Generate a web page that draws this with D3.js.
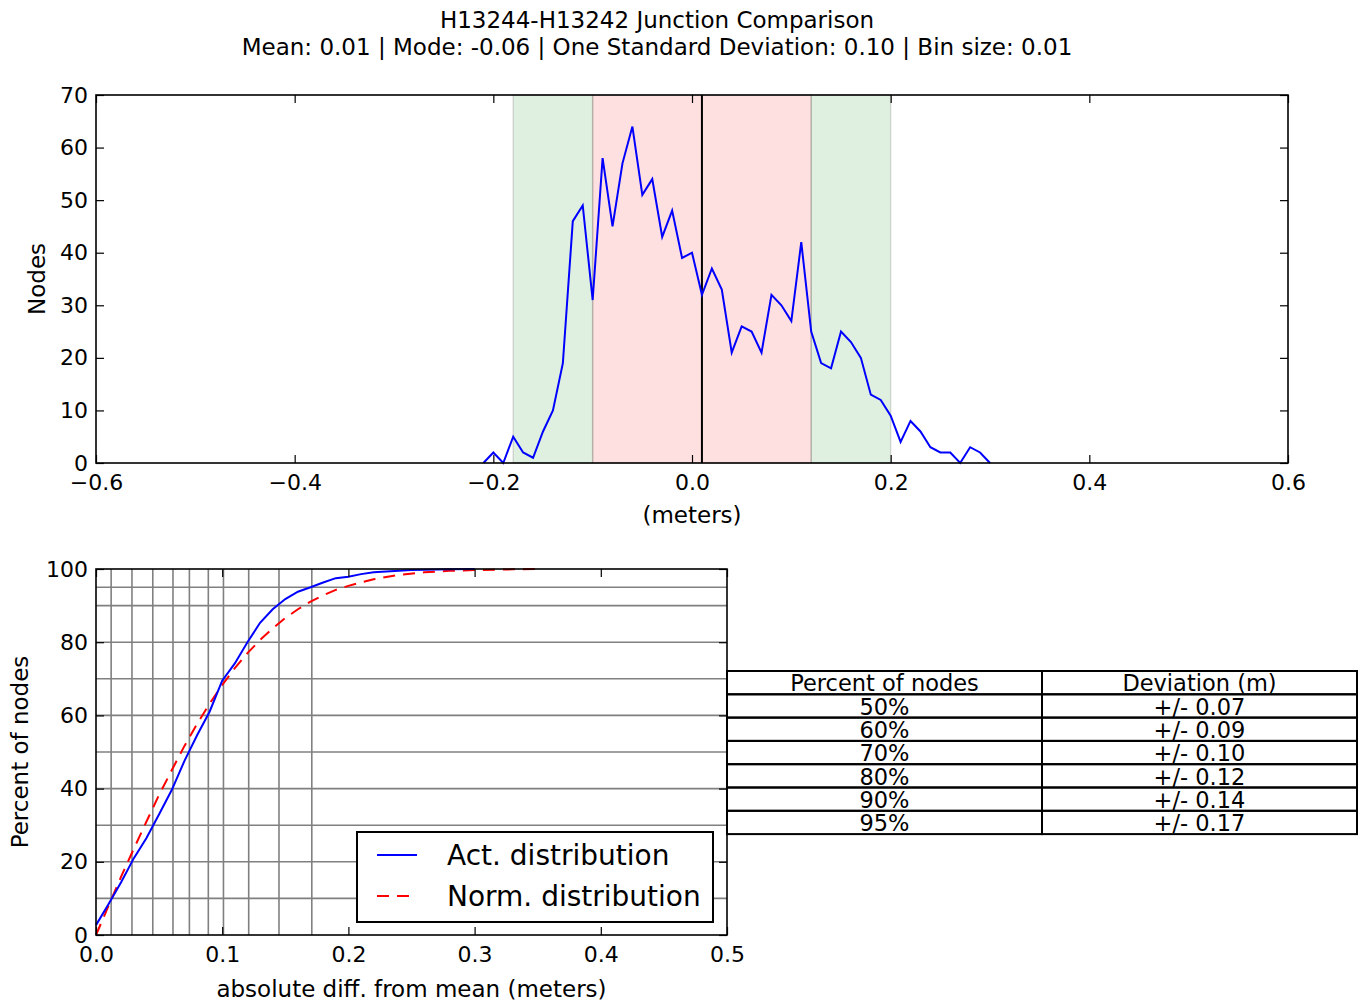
<!DOCTYPE html>
<html>
<head>
<meta charset="utf-8">
<script src="https://cdn.jsdelivr.net/npm/d3@7"></script>
<style>
  body { margin: 0; background: #fff; }
  svg { font-family: "DejaVu Sans", sans-serif; }
  .axis path, .axis line { stroke: #000; }
</style>
</head>
<body>
<svg id="fig" width="1370" height="1005"></svg>
<script>
// ---- data ----
var titleLine1 = 'H13244-H13242 Junction Comparison';
var titleLine2 = 'Mean: 0.01 | Mode: -0.06 | One Standard Deviation: 0.10 | Bin size: 0.01';

var binCenters = [-0.21,-0.20,-0.19,-0.18,-0.17,-0.16,-0.15,-0.14,-0.13,-0.12,-0.11,-0.10,
  -0.09,-0.08,-0.07,-0.06,-0.05,-0.04,-0.03,-0.02,-0.01,0.00,0.01,0.02,0.03,0.04,0.05,
  0.06,0.07,0.08,0.09,0.10,0.11,0.12,0.13,0.14,0.15,0.16,0.17,0.18,0.19,0.20,0.21,0.22,
  0.23,0.24,0.25,0.26,0.27,0.28,0.29,0.30];
var binCounts = [0,2,0,5,2,1,6,10,19,46,49,31,58,45,57,64,51,54,43,48,39,40,32,37,33,21,26,
  25,21,32,30,27,42,25,19,18,25,23,20,13,12,9,4,8,6,3,2,2,0,3,2,0];

var meanValue = 0.01;
var innerBand = [-0.10, 0.12];
var outerBand = [-0.18, 0.20];

var histXTicks = [-0.6,-0.4,-0.2,0.0,0.2,0.4,0.6];
var histYTicks = [0,10,20,30,40,50,60,70];

var cdfX = [0,0.01,0.02,0.03,0.04,0.05,0.06,0.07,0.08,0.09,0.10,0.11,0.12,0.13,0.14,0.15,
  0.16,0.17,0.18,0.19,0.20,0.21,0.22,0.23,0.24,0.25,0.26,0.28,0.30];
var actPct = [2.7,8.5,14.5,21,26.5,33,39.6,47.5,54.5,61,69.5,74.2,80,85.3,89,91.8,
  93.8,95,96.3,97.5,97.9,98.6,99.1,99.3,99.5,99.7,99.8,99.9,100];
var normX = [0,0.01,0.02,0.03,0.04,0.05,0.06,0.07,0.08,0.09,0.10,0.11,0.12,0.13,0.14,0.15,
  0.16,0.17,0.18,0.19,0.20,0.22,0.24,0.26,0.28,0.30,0.33,0.35];
var normPct = [0,8,16,23.6,31,38.3,45,51.6,57.6,63.2,68.3,72.9,77,80.6,83.8,86.6,
  89,91.1,92.8,94.3,95.4,97.2,98.4,99.1,99.5,99.7,99.9,100];

var gridPct = [10,20,30,40,50,60,70,80,90,95];
var gridDev = [0.012,0.0285,0.045,0.061,0.074,0.089,0.101,0.121,0.145,0.171];

var cdfXTicks = [0,0.1,0.2,0.3,0.4,0.5];
var cdfYTicks = [0,20,40,60,80,100];

var tableHeader = ['Percent of nodes','Deviation (m)'];
var tablePct = ['50%','60%','70%','80%','90%','95%'];
var tableDev = ['+/- 0.07','+/- 0.09','+/- 0.10','+/- 0.12','+/- 0.14','+/- 0.17'];

var legendLabels = ['Act. distribution','Norm. distribution'];

// ---- drawing ----
var svg = d3.select('#fig');
var fmt1 = function(d){ return d3.format('.1f')(d).replace('-', '\u2212'); };

svg.append('text').attr('x',657).attr('y',28).attr('text-anchor','middle')
   .style('font-size','23px').text(titleLine1);
svg.append('text').attr('x',657).attr('y',55).attr('text-anchor','middle')
   .style('font-size','23px').text(titleLine2);

// box axes with inward ticks on every side (classic matplotlib look)
var boxAxes = function(g, x, y, w, h, xTicks, yTicks, xFmt, yFmt){
  var tl = 8;
  g.append('g').attr('class','axis').attr('transform','translate(0,'+h+')')
   .call(d3.axisBottom(x).tickValues(xTicks).tickFormat(xFmt).tickSizeInner(-tl).tickSizeOuter(0).tickPadding(11))
   .call(function(s){ s.select('.domain').remove(); s.selectAll('line').attr('stroke-width',1.2); });
  g.append('g').attr('class','axis')
   .call(d3.axisTop(x).tickValues(xTicks).tickFormat('').tickSizeInner(-tl).tickSizeOuter(0))
   .call(function(s){ s.select('.domain').remove(); s.selectAll('line').attr('stroke-width',1.2); });
  g.append('g').attr('class','axis')
   .call(d3.axisLeft(y).tickValues(yTicks).tickFormat(yFmt).tickSizeInner(-tl).tickSizeOuter(0).tickPadding(8))
   .call(function(s){ s.select('.domain').remove(); s.selectAll('line').attr('stroke-width',1.2); });
  g.append('g').attr('class','axis').attr('transform','translate('+w+',0)')
   .call(d3.axisRight(y).tickValues(yTicks).tickFormat('').tickSizeInner(-tl).tickSizeOuter(0))
   .call(function(s){ s.select('.domain').remove(); s.selectAll('line').attr('stroke-width',1.2); });
  g.selectAll('.axis text').style('font-size','22px').style('font-family','"DejaVu Sans", sans-serif').attr('fill','#000');
  g.append('rect').attr('width',w).attr('height',h).attr('fill','none')
   .attr('stroke','#000').attr('stroke-width',1.6);
};

// ---- top histogram ----
var histBox = {left:96, top:95, width:1192, height:368};
var gTop = svg.append('g').attr('transform','translate('+histBox.left+','+histBox.top+')');
var hx = d3.scaleLinear().domain([-0.6,0.6]).range([0,histBox.width]);
var hy = d3.scaleLinear().domain([0,70]).range([histBox.height,0]);

var bands = [
  {a:outerBand[0], b:innerBand[0], c:'#008000'},
  {a:innerBand[0], b:innerBand[1], c:'#ff0000'},
  {a:innerBand[1], b:outerBand[1], c:'#008000'}
];
gTop.selectAll('rect.band').data(bands).enter().append('rect')
  .attr('class','band')
  .attr('x',function(d){ return hx(d.a); })
  .attr('width',function(d){ return hx(d.b)-hx(d.a); })
  .attr('y',0).attr('height',histBox.height)
  .attr('fill',function(d){ return d.c; }).attr('fill-opacity',0.12)
  .attr('stroke','#000').attr('stroke-opacity',0.13).attr('stroke-width',1.5);

gTop.append('line').attr('x1',hx(meanValue)).attr('x2',hx(meanValue))
  .attr('y1',0).attr('y2',histBox.height).attr('stroke','#000').attr('stroke-width',2);

var histPts = binCenters.map(function(v,i){ return {x:v, y:binCounts[i]}; });
gTop.append('path').datum(histPts)
  .attr('d', d3.line().x(function(d){ return hx(d.x); }).y(function(d){ return hy(d.y); }))
  .attr('fill','none').attr('stroke','#0000ff').attr('stroke-width',2);

boxAxes(gTop, hx, hy, histBox.width, histBox.height, histXTicks, histYTicks, fmt1, d3.format('d'));

svg.append('text').attr('x',histBox.left+histBox.width/2).attr('y',523).attr('text-anchor','middle')
   .style('font-size','23px').text('(meters)');
svg.append('text').attr('transform','translate(45,'+(histBox.top+histBox.height/2)+') rotate(-90)')
   .attr('text-anchor','middle').style('font-size','23px').text('Nodes');

// ---- bottom cumulative chart ----
var cdfBox = {left:96, top:569, width:631, height:366};
var gBot = svg.append('g').attr('transform','translate('+cdfBox.left+','+cdfBox.top+')');
var cx = d3.scaleLinear().domain([0,0.5]).range([0,cdfBox.width]);
var cy = d3.scaleLinear().domain([0,100]).range([cdfBox.height,0]);

gBot.selectAll('line.hgrid').data(gridPct).enter().append('line')
  .attr('class','hgrid').attr('x1',0).attr('x2',cdfBox.width)
  .attr('y1',function(d){ return cy(d); }).attr('y2',function(d){ return cy(d); })
  .attr('stroke','#808080').attr('stroke-width',1.6);
gBot.selectAll('line.vgrid').data(gridDev).enter().append('line')
  .attr('class','vgrid').attr('y1',0).attr('y2',cdfBox.height)
  .attr('x1',function(d){ return cx(d); }).attr('x2',function(d){ return cx(d); })
  .attr('stroke','#808080').attr('stroke-width',1.6);

var actPts = cdfX.map(function(v,i){ return {x:v, y:actPct[i]}; });
var normPts = normX.map(function(v,i){ return {x:v, y:normPct[i]}; });
var cline = d3.line().x(function(d){ return cx(d.x); }).y(function(d){ return cy(d.y); });
gBot.append('path').datum(normPts).attr('d',cline)
  .attr('fill','none').attr('stroke','#ff0000').attr('stroke-width',2).attr('stroke-dasharray','12,8');
gBot.append('path').datum(actPts).attr('d',cline)
  .attr('fill','none').attr('stroke','#0000ff').attr('stroke-width',2);

boxAxes(gBot, cx, cy, cdfBox.width, cdfBox.height, cdfXTicks, cdfYTicks, fmt1, d3.format('d'));

svg.append('text').attr('x',cdfBox.left+cdfBox.width/2).attr('y',997).attr('text-anchor','middle')
   .style('font-size','23px').text('absolute diff. from mean (meters)');
svg.append('text').attr('transform','translate(28,'+(cdfBox.top+cdfBox.height/2)+') rotate(-90)')
   .attr('text-anchor','middle').style('font-size','23px').text('Percent of nodes');

// legend
var lg = svg.append('g').attr('transform','translate(357,832)');
lg.append('rect').attr('width',356).attr('height',90).attr('fill','#fff')
  .attr('stroke','#000').attr('stroke-width',2);
var legendStyles = [{c:'#0000ff', dash:null},{c:'#ff0000', dash:'12,8'}];
legendLabels.forEach(function(lab,i){
  var yy = 23 + i*41;
  lg.append('line').attr('x1',20).attr('x2',60).attr('y1',yy).attr('y2',yy)
    .attr('stroke',legendStyles[i].c).attr('stroke-width',2)
    .attr('stroke-dasharray',legendStyles[i].dash);
  lg.append('text').attr('x',90).attr('y',yy+10).style('font-size','28px').text(lab);
});

// table
var tb = {left:727, top:671, rowH:23.3, col:[315,315]};
var rows = [tableHeader].concat(tablePct.map(function(p,i){ return [p, tableDev[i]]; }));
var tg = svg.append('g').attr('transform','translate('+tb.left+','+tb.top+')');
rows.forEach(function(r,ri){
  var x0 = 0;
  r.forEach(function(cell,ci){
    tg.append('rect').attr('x',x0).attr('y',ri*tb.rowH).attr('width',tb.col[ci]).attr('height',tb.rowH)
      .attr('fill','none').attr('stroke','#000').attr('stroke-width',2);
    tg.append('text').attr('x',x0+tb.col[ci]/2).attr('y',ri*tb.rowH+tb.rowH-3)
      .attr('text-anchor','middle').style('font-size','22.5px').text(cell);
    x0 += tb.col[ci];
  });
});
</script>
</body>
</html>
